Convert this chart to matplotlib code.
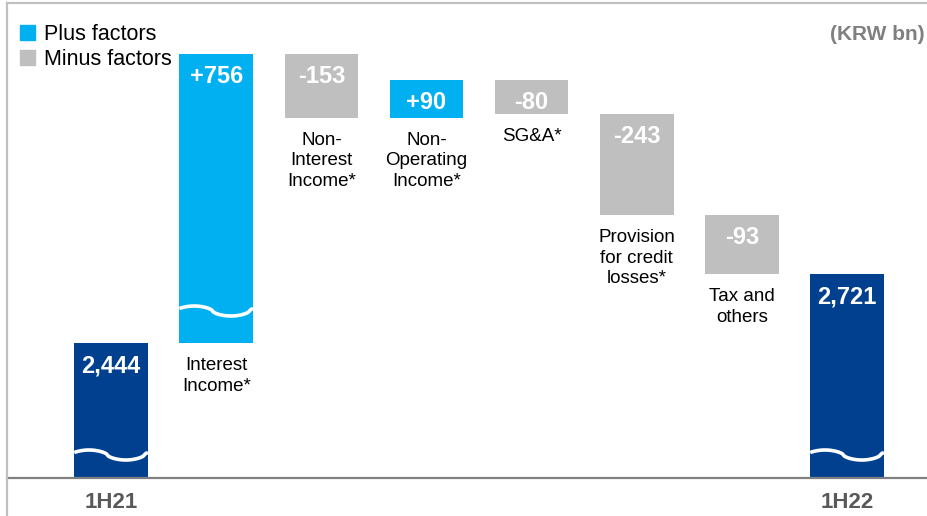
import numpy as np
import matplotlib.pyplot as plt
from matplotlib.patches import Patch
from matplotlib.lines import Line2D

plt.rcParams['font.family'] = ['Liberation Sans', 'DejaVu Sans']

# data (KRW bn)
categories = ['1H21', 'Interest\nIncome*', 'Non-\nInterest\nIncome*',
              'Non-\nOperating\nIncome*', 'SG&A*',
              'Provision\nfor credit\nlosses*', 'Tax and\nothers', '1H22']
start_value = 2444
changes = [756, -153, 90, -80, -243, -93]
end_value = 2721
value_labels = ['2,444', '+756', '-153', '+90', '-80', '-243', '-93', '2,721']

c_plus = '#00B0F0'
c_minus = '#BFBFBF'
c_total = '#00408F'

# broken value axis: piecewise linear, value -> pixel height above baseline
knot_val = np.array([-1000, 0, 2444, 2721, 2814, 3200, 4000])
knot_px = np.array([-55, 0, 135, 204, 263, 424, 758])


def forward(v):
    return np.interp(v, knot_val, knot_px)


def inverse(p):
    return np.interp(p, knot_px, knot_val)


# waterfall geometry
bottoms, heights, colors = [0], [start_value], [c_total]
running = start_value
for ch in changes:
    bottoms.append(min(running, running + ch))
    heights.append(abs(ch))
    colors.append(c_plus if ch > 0 else c_minus)
    running += ch
bottoms.append(0)
heights.append(end_value)
colors.append(c_total)
x = np.arange(len(categories))

fig = plt.figure(figsize=(9.27, 5.16), dpi=100)
ax = fig.add_axes([7 / 927, 38 / 516, 920 / 927, 475 / 516])
ax.set_yscale('function', functions=(forward, inverse))
ax.set_ylim(0, inverse(475))
ax.set_xlim(-0.99, 7.76)

ax.bar(x, heights, bottom=bottoms, width=0.7, color=colors, zorder=2)

# frame lines
fig.add_artist(Line2D([7.5 / 927, 7.5 / 927], [0, 513 / 516], color='#C0C0C0', lw=1.6))
fig.add_artist(Line2D([7.5 / 927, 1], [513 / 516, 513 / 516], color='#C0C0C0', lw=1.6))
for s in ['left', 'top', 'right']:
    ax.spines[s].set_visible(False)
ax.spines['bottom'].set_color('#808080')
ax.spines['bottom'].set_linewidth(1.6)
ax.spines['bottom'].set_zorder(3)
ax.set_yticks([])
ax.set_xticks([0, 7], ['1H21', '1H22'])
ax.tick_params(axis='x', length=0, pad=10, labelsize=16, labelcolor='#595959')
for t in ax.get_xticklabels():
    t.set_fontweight('bold')

# break marks
t = np.linspace(0, 1, 60)
c = np.cos(2 * np.pi * (t - 0.2))
wave = 5 * np.sign(c) * np.abs(c) ** 0.6
for xi, px in [(0, 23), (1, 167), (7, 23)]:
    ax.plot(xi - 0.35 + 0.7 * t, inverse(px + wave), color='white', lw=2.6,
            solid_capstyle='butt', zorder=3)

# value labels and category labels
for i in range(len(categories)):
    top = bottoms[i] + heights[i]
    ax.annotate(value_labels[i], (x[i], top), xytext=(0, -8), textcoords='offset points',
                ha='center', va='top', color='white', fontsize=17, fontweight='bold', zorder=4)
    if 0 < i < len(categories) - 1:
        ax.annotate(categories[i], (x[i], bottoms[i]), xytext=(0, -10),
                    textcoords='offset points', ha='center', va='top',
                    fontsize=13.5, color='black', linespacing=1.28)

fig.text(925 / 927, 1 - 34 / 516, '(KRW bn)', ha='right', va='center',
         fontsize=15, fontweight='bold', color='#808080')

handles = [Patch(color=c_plus, label='Plus factors'),
           Patch(color=c_minus, label='Minus factors')]
fig.legend(handles=handles, loc='upper left', bbox_to_anchor=(20 / 927, 1 - 24 / 516),
           frameon=False, fontsize=15.5, handlelength=0.7, handleheight=0.7,
           handletextpad=0.42, labelspacing=0.2, borderpad=0, borderaxespad=0)

fig.savefig('out.png', dpi=100)
